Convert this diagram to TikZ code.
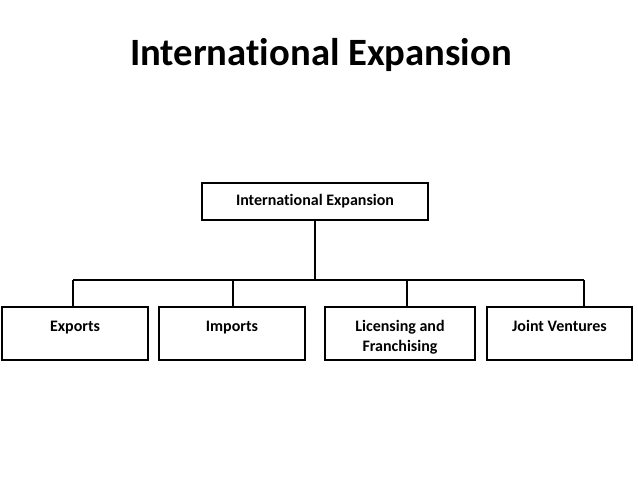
\documentclass[tikz,border=0pt]{standalone}
\usepackage{fontspec}
\setmainfont{Carlito}[Ligatures=NoCommon]
\usepackage{tikz}
\usetikzlibrary{positioning,calc}

\newcommand{\leaftext}[1]{\parbox[c][39.75pt][t]{106pt}{\centering\baselineskip=15pt\rule{0pt}{18pt}#1}}

\tikzset{
  box/.style={draw, line width=1.4pt, inner sep=0pt, font=\fontsize{12}{15}\selectfont\bfseries},
  leaf/.style={box, minimum width=109pt, minimum height=39.75pt},
  link/.style={line width=1.4pt}
}

\begin{document}
\begin{tikzpicture}[x=0.75pt,y=-0.75pt]
  \useasboundingbox (0,0) rectangle (638,479);
  % Title
  \node[anchor=base, font=\fontsize{29}{34}\selectfont\bfseries] (title) at (321,65) {International Expansion};
  % Top box
  \node[box, minimum width=169.5pt, minimum height=27.75pt] (root) at (315,201.5) {International Expansion};
  % Bottom row
  \node[leaf] (exp) at (75,333.5) {\leaftext{Exports}};
  \node[leaf] (imp) at (232,333.5) {\leaftext{Imports}};
  \node[leaf, minimum width=112.5pt] (lic) at (400,333.5) {\leaftext{Licensing and\\Franchising}};
  \node[leaf] (jv) at (559.5,333.5) {\leaftext{Joint Ventures}};
  % Connectors
  \coordinate (bus) at (315,280);
  \draw[link] (root.south) -- (bus);
  \foreach \n/\x in {exp/73, imp/233, lic/407, jv/584} {
    \coordinate (t\n) at (\x,280);
    \draw[link] (t\n) -- (t\n |- \n.north);
  }
  \draw[link] (texp) -- (tjv);
\end{tikzpicture}
\end{document}
